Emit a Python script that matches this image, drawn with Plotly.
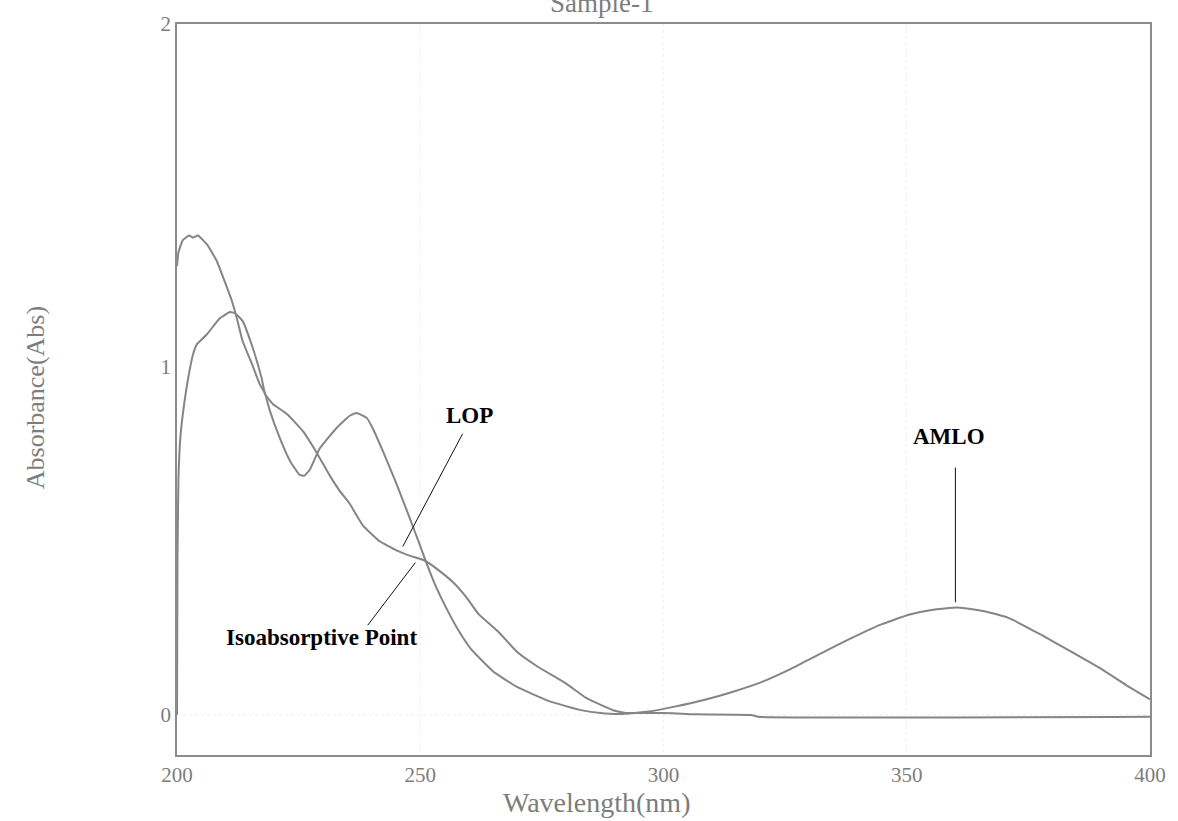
import plotly.graph_objects as go

# Absorption spectra, wavelength (nm) vs absorbance
amlo_wl = [200.0, 200.3, 201.2, 202.5, 203.3, 204.3, 206.2, 208.2, 209.8, 211.3, 212.3,
           213.5, 215.4, 217.0, 218.1, 219.1, 221.1, 223.2, 225.2, 226.2, 227.3, 229.3,
           232.8, 235.5, 236.9, 239.0, 240.2, 242.3, 245.1, 247.8, 249.8, 251.3, 253.3,
           256.0, 258.0, 260.4, 265.0, 270.0, 276.5, 283.0, 288.0, 291.0, 294.0, 297.0,
           302.3, 308.3, 314.3, 320.4, 326.4, 332.5, 338.5, 344.5, 350.6, 355.1, 360.5,
           366.4, 370.9, 377.7, 383.8, 389.8, 395.1, 400.0]
amlo_abs = [1.29, 1.33, 1.365, 1.378, 1.372, 1.378, 1.352, 1.304, 1.246, 1.189, 1.140,
            1.074, 1.009, 0.951, 0.923, 0.874, 0.797, 0.731, 0.690, 0.688, 0.705, 0.765,
            0.825, 0.860, 0.868, 0.854, 0.825, 0.759, 0.665, 0.567, 0.493, 0.436, 0.367,
            0.290, 0.240, 0.190, 0.125, 0.080, 0.040, 0.014, 0.004, 0.003, 0.006, 0.010,
            0.024, 0.043, 0.067, 0.096, 0.134, 0.178, 0.220, 0.259, 0.289, 0.302, 0.309,
            0.297, 0.279, 0.230, 0.182, 0.134, 0.086, 0.045]

lop_wl = [200.0, 200.1, 200.3, 200.7, 201.2, 202.2, 203.3, 204.1, 204.7, 206.2, 208.8,
          210.9, 211.9, 213.5, 215.6, 217.4, 218.1, 219.7, 222.6, 225.8, 228.7, 231.4,
          233.4, 235.5, 238.2, 241.6, 245.1, 247.8, 250.9, 254.6, 257.0, 259.5, 262.0,
          266.0, 270.0, 274.0, 280.0, 284.0, 287.0, 290.0, 292.3, 297.0, 302.0, 306.0,
          318.0, 319.5, 400.0]
lop_abs = [0.0, 0.45, 0.68, 0.80, 0.865, 0.96, 1.037, 1.066, 1.074, 1.095, 1.140,
           1.158, 1.155, 1.132, 1.054, 0.968, 0.923, 0.894, 0.865, 0.817, 0.754, 0.688,
           0.645, 0.607, 0.545, 0.500, 0.473, 0.458, 0.444, 0.407, 0.378, 0.338, 0.290,
           0.240, 0.180, 0.140, 0.090, 0.050, 0.030, 0.012, 0.006, 0.006, 0.005, 0.002,
           0.0, -0.005, -0.005]

x_ticks = [200, 250, 300, 350, 400]
y_ticks = [0, 1]
y_range = [-0.115, 1.986]

# Callout labels: text, label position, leader line start/end
callouts = [
    ("LOP", 260.1, 0.860, (258.7, 0.808), (246.4, 0.484)),
    ("AMLO", 358.6, 0.800, (360.0, 0.711), (360.0, 0.324)),
    ("Isoabsorptive Point", 229.7, 0.222, (239.2, 0.258), (249.0, 0.438)),
]

SERIF = "Liberation Serif, Times New Roman, serif"
GREY = "#7d7d7d"

# plot area in pixels: left 177, width 975, bottom 755, height 733
def px_x(p):
    return (p - 177) / 975


def px_y(p):
    return (755 - p) / 733


fig = go.Figure()
for wl, ab in [(amlo_wl, amlo_abs), (lop_wl, lop_abs)]:
    fig.add_trace(go.Scatter(x=wl, y=ab, mode="lines",
                             line=dict(color="#858585", width=2, shape="spline", smoothing=0.4),
                             showlegend=False, hoverinfo="skip"))

shapes = [dict(type="line", xref="x", yref="y", x0=200, x1=400, y0=0, y1=0,
               line=dict(color="#efefef", width=1, dash="dot"), layer="below")]
annotations = []
for text, tx, ty, (x0, y0), (x1, y1) in callouts:
    shapes.append(dict(type="line", xref="x", yref="y", x0=x0, y0=y0, x1=x1, y1=y1,
                       line=dict(color="#111111", width=1)))
    annotations.append(dict(x=tx, y=ty, xref="x", yref="y", text=f"<b>{text}</b>",
                            showarrow=False,
                            font=dict(family=SERIF, size=23, color="#000000")))

annotations += [
    dict(x=px_x(602), y=px_y(1), xref="paper", yref="paper", text="Sample-1",
         showarrow=False, xanchor="center", yanchor="middle",
         font=dict(family=SERIF, size=27, color=GREY)),
    dict(x=px_x(597), y=px_y(803), xref="paper", yref="paper", text="Wavelength(nm)",
         showarrow=False, xanchor="center", yanchor="middle",
         font=dict(family=SERIF, size=28, color=GREY)),
    dict(x=px_x(36), y=px_y(397), xref="paper", yref="paper", text="Absorbance(Abs)",
         showarrow=False, textangle=-90, xanchor="center", yanchor="middle",
         font=dict(family=SERIF, size=26, color=GREY)),
]

fig.update_layout(
    width=1178, height=821,
    margin=dict(l=177, r=26, t=22, b=66),
    paper_bgcolor="white", plot_bgcolor="white",
    shapes=shapes, annotations=annotations,
    font=dict(family=SERIF, color=GREY),
)
fig.update_xaxes(range=[200, 400], tickvals=x_ticks, ticks="",
                 showgrid=True, gridcolor="#f1f1f1", griddash="dot",
                 zeroline=False, showline=True, mirror=True,
                 linecolor="#8c8c8c", linewidth=1.5,
                 tickfont=dict(family=SERIF, size=21, color=GREY))
fig.update_yaxes(range=y_range, tickvals=y_ticks + [y_range[1]],
                 ticktext=[str(v) for v in y_ticks] + ["2"], ticks="",
                 showgrid=False, zeroline=False, showline=True, mirror=True,
                 linecolor="#8c8c8c", linewidth=1.5,
                 tickfont=dict(family=SERIF, size=21, color=GREY))

fig.write_html("out.html")
